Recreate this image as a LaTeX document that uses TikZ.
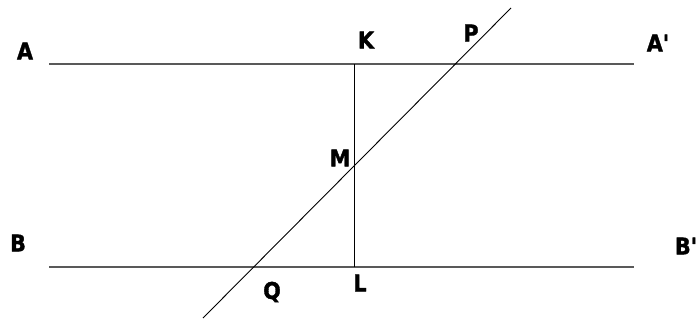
\documentclass[tikz,border=0pt]{standalone}
\usepackage{fontspec}
\newfontfamily\lblfont{DejaVu Sans Condensed}[BoldFeatures={FakeBold=1.5}]
\begin{document}
\begin{tikzpicture}[x=1pt,y=-1pt,
  lbl/.style={inner sep=0pt,font=\lblfont\fontsize{23}{23}\selectfont\bfseries},
  hline/.style={draw=black!65,line width=1.3pt},
  thin/.style={draw=black,line width=0.9pt}]
\useasboundingbox (0,0) rectangle (700,322);
% horizontal lines
\coordinate (a1) at (49,64);
\coordinate (a2) at (634,64);
\coordinate (b1) at (49,267);
\coordinate (b2) at (634,267);
\coordinate (k) at (354,64);
\coordinate (l) at (354,267);
\coordinate (t1) at (511,8);
\coordinate (t2) at (203,318);
\draw[hline] (a1) -- (a2);
\draw[hline] (b1) -- (b2);
\draw[thin] (k) -- (l);
\draw[thin] (t1) -- (t2);
% labels
\node[lbl] (A) at (25,51) {A};
\node[lbl] (K) at (366,40) {K};
\node[lbl] (P) at (471,33) {P};
\node[lbl] (Ap) at (658,43) {A\textquotesingle};
\node[lbl] (M) at (340,158) {M};
\node[lbl] (B) at (18,243) {B};
\node[lbl] (Bp) at (686,246) {B\textquotesingle};
\node[lbl] (Q) at (272,292) {Q};
\node[lbl] (L) at (360,283) {L};
\end{tikzpicture}
\end{document}
